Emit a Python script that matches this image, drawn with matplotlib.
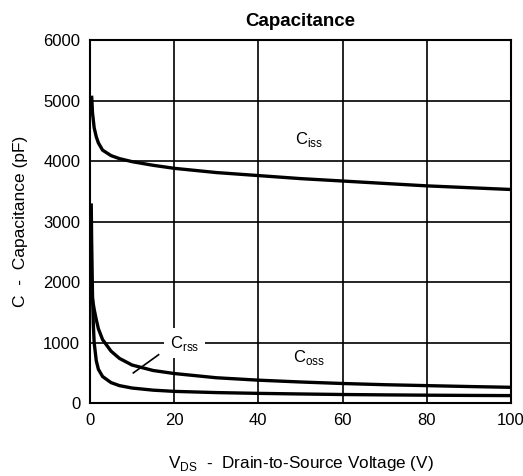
import matplotlib
matplotlib.use("Agg")
import matplotlib.pyplot as plt

plt.rcParams['font.family'] = ['Liberation Sans', 'DejaVu Sans']

vds_iss = [0.4, 0.6, 1.0, 1.5, 2.0, 3.0, 5.0, 7.0, 10, 15, 20, 30, 40, 50, 60, 70, 80, 90, 100]
ciss = [5080, 4800, 4550, 4400, 4300, 4180, 4090, 4040, 3990, 3930, 3880, 3810, 3760, 3710, 3670, 3630, 3590, 3560, 3530]

vds_oss = [0.4, 0.6, 1.0, 1.5, 2.0, 3.0, 5.0, 7.0, 10, 15, 20, 30, 40, 50, 60, 70, 80, 90, 100]
coss = [1800, 1720, 1550, 1380, 1230, 1050, 860, 740, 630, 540, 490, 420, 380, 350, 325, 305, 290, 275, 262]

vds_rss = [0.3, 0.4, 0.6, 0.8, 1.0, 1.5, 2.0, 3.0, 5.0, 7.0, 10, 15, 20, 30, 40, 50, 60, 70, 80, 90, 100]
crss = [3300, 2700, 1800, 1300, 1000, 700, 560, 440, 340, 290, 250, 215, 195, 175, 162, 152, 143, 137, 132, 128, 125]

x_ticks = [0, 20, 40, 60, 80, 100]
y_ticks = [0, 1000, 2000, 3000, 4000, 5000, 6000]

fig = plt.figure(figsize=(5.23, 4.76), dpi=100)
ax = fig.add_axes([0.172, 0.153, 0.805, 0.763])

lw = 2.4
ax.plot(vds_iss, ciss, color='black', lw=lw, solid_capstyle='butt', zorder=3)
ax.plot(vds_oss, coss, color='black', lw=lw, solid_capstyle='butt', zorder=3)
ax.plot(vds_rss, crss, color='black', lw=lw, solid_capstyle='butt', zorder=3)

ax.set_xlim(0, 100)
ax.set_ylim(0, 6000)
ax.set_xticks(x_ticks)
ax.set_yticks(y_ticks)
ax.tick_params(length=0, labelsize=12, pad=7)
ax.grid(True, color='black', lw=1.2)
ax.set_axisbelow(True)
for s in ax.spines.values():
    s.set_linewidth(1.5)

ax.text(52, 4350, r'C$_{\mathregular{iss}}$', fontsize=12, ha='center', va='center', zorder=4)
ax.text(52, 760, r'C$_{\mathregular{oss}}$', fontsize=12, ha='center', va='center', zorder=4)
ax.text(22.5, 990, r'C$_{\mathregular{rss}}$', fontsize=12, ha='center', va='center', zorder=4,
        bbox=dict(facecolor='white', edgecolor='none', pad=4))
ax.plot([10.3, 16.3], [500, 800], color='black', lw=1.2, zorder=4)

ax.set_title('Capacitance', fontsize=13.5, fontweight='bold', pad=10)
ax.set_xlabel(r'V$_{\mathregular{DS}}$  -  Drain-to-Source Voltage (V)', fontsize=12.3, labelpad=19)
ax.set_ylabel('C  -  Capacitance (pF)', fontsize=12.5, labelpad=11)

fig.savefig('out.png', dpi=100)
